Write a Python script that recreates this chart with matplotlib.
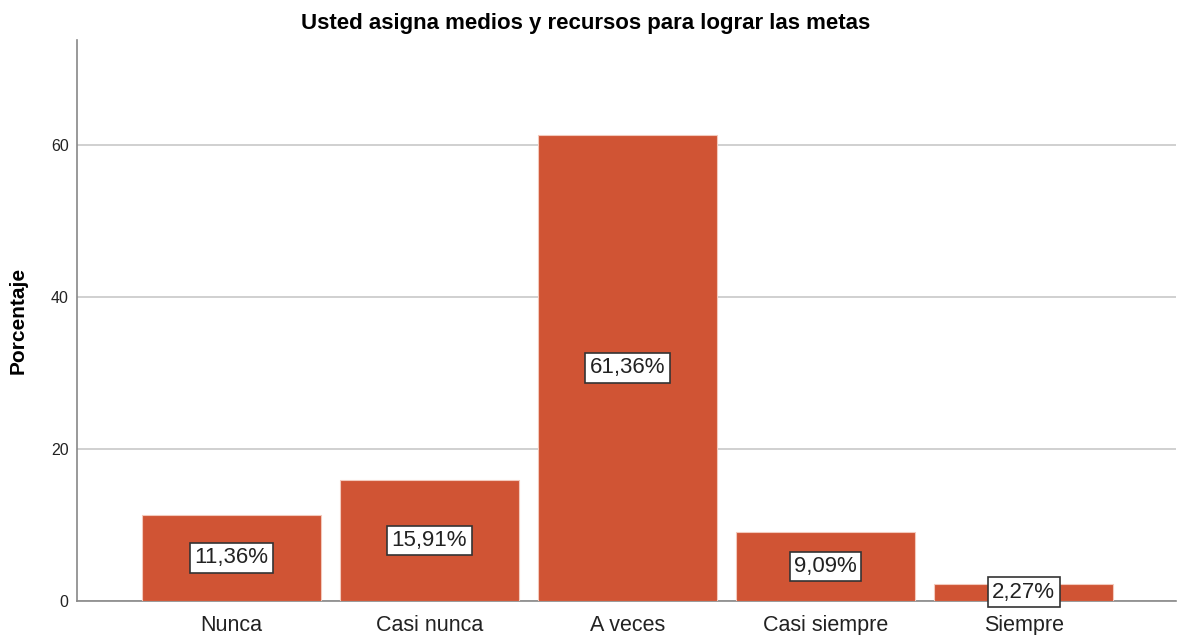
import numpy as np
import matplotlib
matplotlib.use("Agg")
import matplotlib.pyplot as plt

plt.rcParams['font.family'] = ['Liberation Sans', 'DejaVu Sans']

categorias = ["Nunca", "Casi nunca", "A veces", "Casi siempre", "Siempre"]
porcentajes = [11.36, 15.91, 61.36, 9.09, 2.27]
etiquetas = ["11,36%", "15,91%", "61,36%", "9,09%", "2,27%"]
yticks = [0, 20, 40, 60]

fig = plt.figure(figsize=(11.79, 6.35), dpi=100)
ax = fig.add_axes([0.0653, 0.0535, 0.9322, 0.8835])

x = np.arange(len(categorias))
ax.bar(x, porcentajes, width=0.9, color="#D05434", edgecolor="#F3C9BC",
       linewidth=0.8, zorder=3)

for xi, v, t in zip(x, porcentajes, etiquetas):
    ax.text(xi, v / 2, t, ha="center", va="center", fontsize=16,
            color="#222222", zorder=4,
            bbox=dict(boxstyle="square,pad=0.2", facecolor="white",
                      edgecolor="#333333", linewidth=1.2))

ax.set_xlim(-0.78, 4.77)
ax.set_ylim(0, 73.8)
ax.set_xticks(x)
ax.set_xticklabels(categorias, fontsize=15.5, color="#222222")
ax.set_yticks(yticks)
ax.set_yticklabels([str(v) for v in yticks], fontsize=11.5, color="#222222")
ax.tick_params(axis="y", length=0, pad=6)
ax.tick_params(axis="x", length=0, pad=10)

ax.yaxis.grid(True, color="#C8C8C8", linewidth=1.2, zorder=0)
ax.set_axisbelow(True)

for s in ["top", "right"]:
    ax.spines[s].set_visible(False)
for s in ["left", "bottom"]:
    ax.spines[s].set_color("#888888")
    ax.spines[s].set_linewidth(1.2)

ax.set_ylabel("Porcentaje", fontsize=15, fontweight="bold")
ax.yaxis.set_label_coords(-0.045, 0.5)
fig.text(0.497, 0.963, "Usted asigna medios y recursos para lograr las metas",
         ha="center", va="center", fontsize=16, fontweight="bold")

fig.savefig("out.png", dpi=100, facecolor="white")
